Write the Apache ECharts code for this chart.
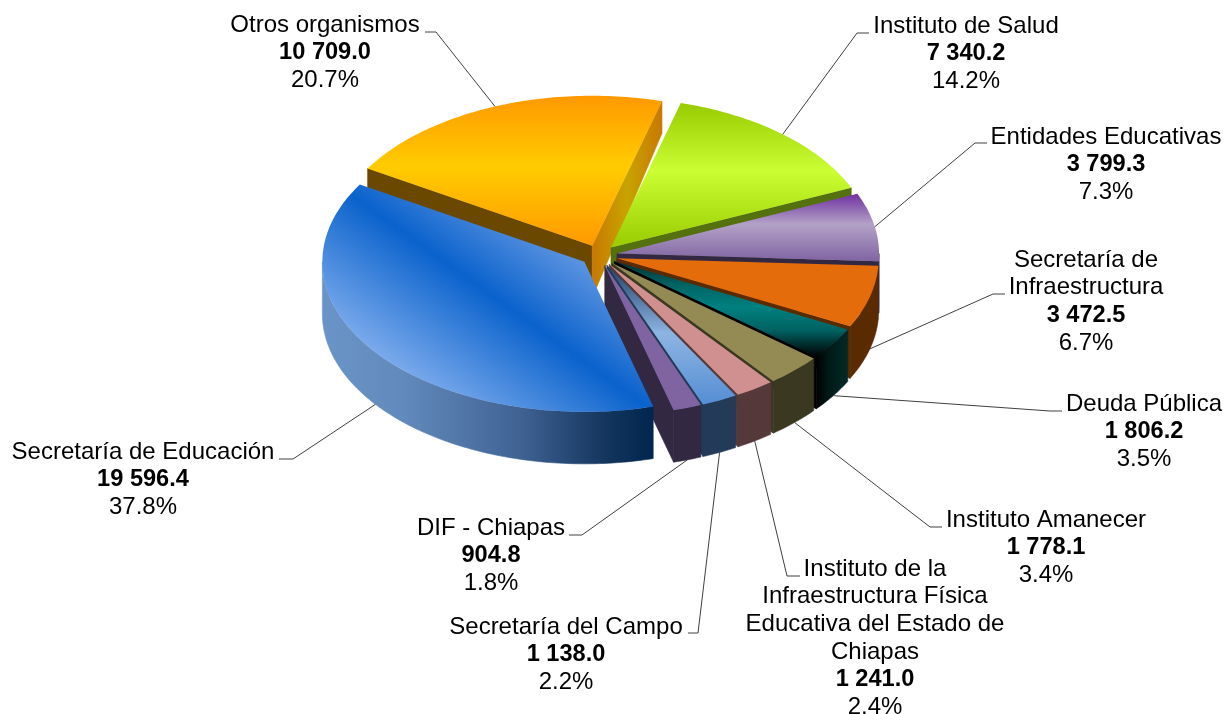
<!DOCTYPE html>
<html><head><meta charset="utf-8">
<style>html,body{margin:0;padding:0;background:#fff}#c{width:1227px;height:714px}</style>
<script src="https://cdn.jsdelivr.net/npm/echarts@6/dist/echarts.min.js"></script>
</head><body><div id="c"></div>
<script>
// Data (drawing order: back to front, clockwise)
const names = ['Otros organismos','Instituto de Salud','Entidades Educativas','Secretaría de\nInfraestructura','Deuda Pública','Instituto Amanecer','Instituto de la\nInfraestructura Física\nEducativa del Estado de\nChiapas','Secretaría del Campo','DIF - Chiapas','Secretaría de Educación'];
const values = [10709.0,7340.2,3799.3,3472.5,1806.2,1778.1,1241.0,1138.0,904.8,19596.4];
const valueLabels = ['10 709.0','7 340.2','3 799.3','3 472.5','1 806.2','1 778.1','1 241.0','1 138.0','904.8','19 596.4'];
const percentLabels = ['20.7%','14.2%','7.3%','6.7%','3.5%','3.4%','2.4%','2.2%','1.8%','37.8%'];

// Layout
const labelCenterX = [325,966,1106,1086,1144,1046,875,566,491,143];
const labelFirstY = [25,26,137,260,404,520,569,627,528,452];
const leaderStart = [[425,32],[869,33],[987,143],[1005,294],[1062,411],[942,527],[800,576],[688,633],[569,535],[279,459]];
const leaderKnot = [[436,32],[857,33],[975,143],[993,294],[1050,411],[930,527],[787,576],[698,633],[582,535],[293,459]];
const CX=599, CY=255.5, RX=262, RY=150, EXPLODE=0.07, START_DEG=301, LH=27.7;

// Styles
const H=s=>({h:s}), V=s=>({v:s});
const topFill = [
 V([[0,'#ff9900'],[.47,'#ffcc00'],[1,'#ff9900']]),
 V([[0,'#99cc00'],[.47,'#ccff33'],[1,'#99cc00']]),
 V([[0,'#7030a0'],[.45,'#b3a2c7'],[1,'#8064a2']]),
 '#e46c0a',
 V([[0,'#002f2f'],[.25,'#006464'],[.48,'#008080'],[.72,'#006262'],[1,'#000000']]),
 '#948a54','#d09090',
 V([[0,'#1f3f68'],[.49,'#8db4e2'],[1,'#558ed5']]),
 '#8064a2',
 'BLUE'
];
const startWall = ['#6a4800','#52680f','#332842','#5a2a00','#000000','#3b3822','#55393a','#233a58','#332842','#002850'];
const endWall = [H([[0,'#c87800'],[.5,'#c8a400'],[1,'#c87800']]),'#55700f','#332842','#5a2a00','#000000','#3b3822','#55393a','#233a58','#332842','#002850'];
const arcWall = ['#6a4800','#55700f','#332842','#5a2a00',H([[0,'#000000'],[.4,'#001a18'],[1,'#002a28']]),'#3b3822','#55393a','#233a58','#332842',H([[0,'#6a94c8'],[.25,'#6289bb'],[.6,'#3f6293'],[.85,'#14365f'],[1,'#00264e']])];

const total = values.reduce((a,b)=>a+b,0);
const rad = d=>d*Math.PI/180;
const depth = y=>Math.min(52,32+(y-101)*0.15);
const down = p=>[p[0],p[1]+depth(p[1])];
function fill(c){
  if(typeof c==='string') return c;
  const s=(c.h||c.v).map(a=>({offset:a[0],color:a[1]}));
  return c.h?new echarts.graphic.LinearGradient(0,0,1,0,s):new echarts.graphic.LinearGradient(0,0,0,1,s);
}
function blueFill(){
  const n=[.58,-.81], px=497, py=300;
  return new echarts.graphic.LinearGradient(px-116*n[0],py-116*n[1],px+100*n[0],py+100*n[1],[
    {offset:0,color:'#7cabec'},{offset:.54,color:'#0a62cc'},{offset:1,color:'#6f9fe6'}],true);
}
function renderItem(params,api){
  const i=params.dataIndex;
  let before=0; for(let k=0;k<i;k++) before+=values[k];
  const a0=(START_DEG+before/total*360)%360, a1=a0+api.value(0)/total*360, mid=(a0+a1)/2;
  const ax=CX+RX*EXPLODE*Math.sin(rad(mid)), ay=CY-RY*EXPLODE*Math.cos(rad(mid));
  const rim=d=>[ax+RX*Math.sin(rad(d)),ay-RY*Math.cos(rad(d))];
  const sweep=(from,to)=>{const n=Math.max(4,Math.ceil(Math.abs(to-from)));const o=[];for(let k=0;k<=n;k++)o.push(rim(from+(to-from)*k/n));return o;};
  const arc=sweep(a0,a1);
  const apex=[ax,ay];
  const poly=(pts,f,edge)=>({type:'polygon',shape:{points:pts},style:edge?{fill:f,stroke:f,lineWidth:.6}:{fill:f},silent:true});
  const children=[];
  // outer wall: only the front half of the rim (90..270 degrees) can be seen
  const f0=Math.max(a0,90), f1=Math.min(a1,270);
  if(f1>f0){const fr=sweep(f0,f1);children.push(poly(fr.concat(fr.slice().reverse().map(down)),fill(arcWall[i]),true));}
  const p0=arc[0], p1=arc[arc.length-1];
  // radial walls: the start edge shows only on the left half, the end edge only on the right
  if(Math.sin(rad(a0))<0) children.push(poly([apex,p0,down(p0),down(apex)],fill(startWall[i]),true));
  if(Math.sin(rad(a1))>0) children.push(poly([apex,p1,down(p1),down(apex)],fill(endWall[i]),true));
  children.push(poly([apex].concat(arc),topFill[i]==='BLUE'?blueFill():fill(topFill[i])));
  // leader
  let end=rim(mid);
  if(Math.cos(rad(mid))<0) end=down(end);
  children.push({type:'polyline',shape:{points:[leaderStart[i],leaderKnot[i],end]},style:{fill:'none',stroke:'#404040',lineWidth:1},silent:true});
  // label
  const lines=names[i].split('\n');
  const txt=(t,y,bold)=>({type:'text',silent:true,style:{text:t,x:labelCenterX[i],y:y,align:'center',verticalAlign:'middle',fill:'#000',font:(bold?'bold 23.6px':'24px')+' "Liberation Sans", Arial, sans-serif'}});
  lines.forEach((t,k)=>children.push(txt(t,labelFirstY[i]+k*LH,false)));
  children.push(txt(valueLabels[i],labelFirstY[i]+lines.length*LH,true));
  children.push(txt(percentLabels[i],labelFirstY[i]+(lines.length+1)*LH,false));
  return {type:'group',children};
}
const chart=echarts.init(document.getElementById('c'),null,{renderer:'canvas'});
chart.setOption({animation:false,backgroundColor:'#fff',
 series:[{type:'custom',coordinateSystem:'none',renderItem,clip:false,silent:true,
   data:values.map((v,i)=>({name:names[i].replace(/\n/g,' '),value:[v]}))}]});
</script></body></html>
